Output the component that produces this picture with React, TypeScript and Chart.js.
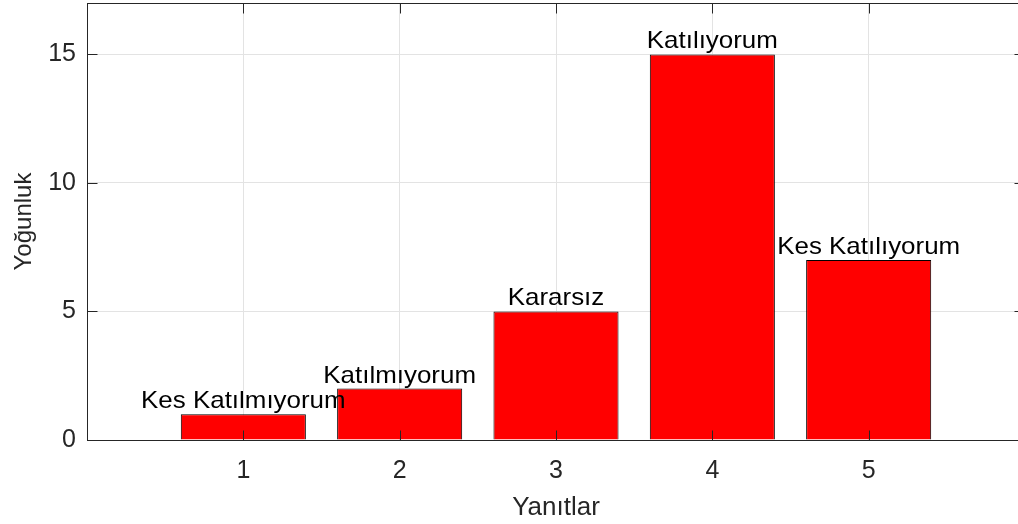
import React, { useEffect, useRef } from 'react';
import { Chart, registerables } from 'chart.js';

Chart.register(...registerables);

const responses = [1, 2, 3, 4, 5];
const counts = [1, 2, 5, 15, 7];
const barLabels = ['Kes Katılmıyorum', 'Katılmıyorum', 'Kararsız', 'Katılıyorum', 'Kes Katılıyorum'];
const xTickValues = [1, 2, 3, 4, 5];
const yTickValues = [0, 5, 10, 15];
const xTitle = 'Yanıtlar';
const yTitle = 'Yoğunluk';

const FONT = 'Arial, "Liberation Sans", Helvetica, sans-serif';
const AXIS_COLOR = '#262626';
const GRID_COLOR = '#e3e3e3';

const frameAndLabels = {
  id: 'frameAndLabels',
  afterDatasetsDraw(chart: any) {
    const { ctx, chartArea, scales } = chart;
    const { left, right, top, bottom } = chartArea;
    const x = scales.x;
    const y = scales.y;
    ctx.save();
    // bar value labels
    ctx.fillStyle = '#000';
    ctx.font = `24px ${FONT}`;
    ctx.textAlign = 'center';
    ctx.textBaseline = 'alphabetic';
    responses.forEach((r, i) => {
      const px = x.getPixelForValue(r);
      const py = y.getPixelForValue(counts[i]);
      ctx.save();
      ctx.translate(px, py - 6);
      ctx.scale(1.08, 1);
      ctx.fillText(barLabels[i], 0, 0);
      ctx.restore();
    });
    // frame
    ctx.strokeStyle = AXIS_COLOR;
    ctx.lineWidth = 1;
    const l = Math.round(left) + 0.5;
    const r = Math.round(right) - 0.5;
    const t = Math.round(top) + 0.5;
    const b = Math.round(bottom) + 0.5;
    ctx.strokeRect(l, t, r - l, b - t);
    // inward ticks
    const L = 10;
    ctx.beginPath();
    xTickValues.forEach((v) => {
      const px = Math.round(x.getPixelForValue(v)) + 0.5;
      ctx.moveTo(px, b);
      ctx.lineTo(px, b - L);
      ctx.moveTo(px, t);
      ctx.lineTo(px, t + L);
    });
    yTickValues.forEach((v) => {
      const py = Math.round(y.getPixelForValue(v)) + 0.5;
      ctx.moveTo(l, py);
      ctx.lineTo(l + L, py);
      ctx.moveTo(r, py);
      ctx.lineTo(r - L, py);
    });
    ctx.stroke();
    ctx.restore();
  },
};

export default function App() {
  const ref = useRef<HTMLCanvasElement>(null);
  useEffect(() => {
    document.body.style.margin = '0';
    document.body.style.overflow = 'hidden';
    const chart = new Chart(ref.current as HTMLCanvasElement, {
      type: 'bar',
      data: {
        datasets: [
          {
            data: responses.map((r, i) => ({ x: r, y: counts[i] })),
            backgroundColor: '#ff0000',
            borderColor: '#000000',
            borderWidth: 1,
            categoryPercentage: 1,
            barPercentage: 0.8,
          },
        ],
      },
      options: {
        responsive: false,
        animation: false,
        events: [],
        layout: { padding: { top: 3, right: 5, left: 0, bottom: 0 } },
        plugins: { legend: { display: false }, tooltip: { enabled: false } },
        scales: {
          x: {
            type: 'linear',
            min: 0,
            max: 6,
            offset: false,
            border: { display: false },
            grid: {
              offset: false,
              drawTicks: false,
              color: (c: any) => (c.tick && xTickValues.includes(c.tick.value) ? GRID_COLOR : 'rgba(0,0,0,0)'),
            },
            ticks: {
              stepSize: 1,
              padding: 16,
              color: AXIS_COLOR,
              font: { family: FONT, size: 25 },
              maxRotation: 0,
              autoSkip: false,
              callback: (v: any) => (xTickValues.includes(v) ? String(v) : ''),
            },
            title: {
              display: true,
              text: xTitle,
              color: AXIS_COLOR,
              font: { family: FONT, size: 26 },
              padding: { top: 0, bottom: 1 },
            },
            afterFit: (s: any) => {
              s.height = 84;
              s.paddingLeft = 0;
              s.paddingRight = 0;
            },
          },
          y: {
            type: 'linear',
            min: 0,
            max: 17,
            border: { display: false },
            grid: {
              drawTicks: false,
              color: (c: any) => (c.tick && yTickValues.includes(c.tick.value) ? GRID_COLOR : 'rgba(0,0,0,0)'),
            },
            ticks: {
              stepSize: 5,
              includeBounds: false,
              padding: 11,
              color: AXIS_COLOR,
              font: { family: FONT, size: 25 },
            },
            title: {
              display: true,
              text: yTitle,
              color: AXIS_COLOR,
              font: { family: FONT, size: 24 },
              padding: { top: 10, bottom: 0 },
            },
            afterFit: (s: any) => {
              s.width = 87;
              s.paddingTop = 0;
              s.paddingBottom = 0;
            },
          },
        },
      },
      plugins: [frameAndLabels],
    } as any);
    return () => chart.destroy();
  }, []);
  return (
    <div style={{ width: 1018, height: 524, overflow: 'hidden', background: '#fff' }}>
      <canvas ref={ref} width={1030} height={524} style={{ display: 'block' }} />
    </div>
  );
}
